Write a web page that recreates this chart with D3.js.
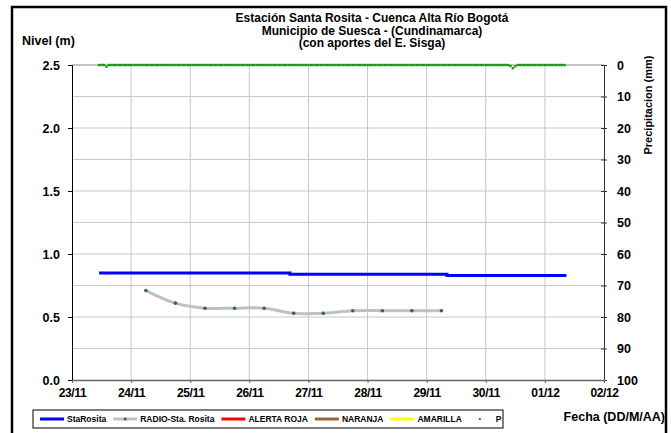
<!DOCTYPE html>
<html>
<head>
<meta charset="utf-8">
<script src="https://cdn.jsdelivr.net/npm/d3@7"></script>
<style>
  body { margin: 0; background: #fff; }
  svg text { font-family: "Liberation Sans", Arial, sans-serif; font-weight: bold; fill: #000; }
</style>
</head>
<body>
<div id="plot"></div>
<script>
// chart size
const width = 671;
const height = 433;

// texts
const titleLines = [
  "Estación Santa Rosita - Cuenca Alta Río Bogotá",
  "Municipio de Suesca - (Cundinamarca)",
  "(con aportes del  E. Sisga)"
];

// axis ticks
const dayTicks = ["2015-11-23", "2015-11-24", "2015-11-25", "2015-11-26", "2015-11-27",
                  "2015-11-28", "2015-11-29", "2015-11-30", "2015-12-01", "2015-12-02"];
const levelTicks = [0, 0.5, 1.0, 1.5, 2.0, 2.5];
const levelGrid = [0.25, 0.5, 0.75, 1.0, 1.25, 1.5, 1.75, 2.0, 2.25];
const precipTicks = [0, 10, 20, 30, 40, 50, 60, 70, 80, 90, 100];

// StaRosita (nivel, m)
const staTimes = ["2015-11-23 11:00", "2015-11-26 16:30", "2015-11-29 08:15", "2015-12-01 08:45"];
const staLevels = [0.85, 0.84, 0.83, 0.83];

// RADIO-Sta. Rosita (nivel, m)
const radioTimes = ["2015-11-24 06:00", "2015-11-24 18:00", "2015-11-25 06:00", "2015-11-25 18:00",
                    "2015-11-26 06:00", "2015-11-26 18:00", "2015-11-27 06:00", "2015-11-27 18:00",
                    "2015-11-28 06:00", "2015-11-28 18:00", "2015-11-29 06:00"];
const radioLevels = [0.71, 0.61, 0.57, 0.57, 0.57, 0.53, 0.53, 0.55, 0.55, 0.55, 0.55];

// P (precipitacion, mm) hourly from precipStart
const precipStart = "2015-11-23 11:00";
const precipValues = [
  0, 0, 0, 0.5, 0, 0, 0, 0, 0, 0, 0, 0, 0, 0, 0, 0, 0, 0, 0, 0, 0, 0, 0, 0,
  0, 0, 0, 0, 0, 0, 0, 0, 0, 0, 0, 0, 0, 0, 0, 0, 0, 0, 0, 0, 0, 0, 0, 0,
  0, 0, 0, 0, 0, 0, 0, 0, 0, 0, 0, 0, 0, 0, 0, 0, 0, 0, 0, 0, 0, 0, 0, 0,
  0, 0, 0, 0, 0, 0, 0, 0, 0, 0, 0, 0, 0, 0, 0, 0, 0, 0, 0, 0, 0, 0, 0, 0,
  0, 0, 0, 0, 0, 0, 0, 0, 0, 0, 0, 0, 0, 0, 0, 0, 0, 0, 0, 0, 0, 0, 0, 0,
  0, 0, 0, 0, 0, 0, 0, 0, 0, 0, 0, 0, 0, 0, 0, 0, 0, 0, 0, 0, 0, 0, 0, 0,
  0, 0, 0, 0, 0, 0, 0, 0, 0, 0, 0, 0, 0, 0, 0, 0, 0, 0, 0, 0, 0, 0, 0, 0.3,
  1.0, 0.4, 0, 0, 0, 0, 0, 0, 0, 0, 0, 0, 0, 0, 0, 0, 0, 0, 0, 0, 0, 0
];

// legend entries
const legendLabels = ["StaRosita", "RADIO-Sta. Rosita", "ALERTA ROJA", "NARANJA", "AMARILLA", "P"];
const legendColors = ["#0000ff", "#c0c0c0", "#ff0000", "#996633", "#ffff00", "#119911"];

const parseDay = d3.timeParse("%Y-%m-%d");
const parseTime = d3.timeParse("%Y-%m-%d %H:%M");

const margin = { top: 65, right: 67, bottom: 53, left: 72 };
const plotW = width - margin.left - margin.right;
const plotH = height - margin.top - margin.bottom;

const x = d3.scaleTime()
  .domain([parseDay(dayTicks[0]), parseDay(dayTicks[dayTicks.length - 1])])
  .range([margin.left, margin.left + plotW]);
const yLevel = d3.scaleLinear().domain([0, 2.5]).range([margin.top + plotH, margin.top]);
const yPrecip = d3.scaleLinear().domain([0, 100]).range([margin.top, margin.top + plotH]);

const svg = d3.select("div#plot")
  .append("svg")
  .attr("width", width)
  .attr("height", height);

// outer frame
svg.append("rect")
  .attr("x", 12).attr("y", 7)
  .attr("width", 654).attr("height", 440)
  .attr("fill", "none").attr("stroke", "#000").attr("stroke-width", 2.5);

// grid
const grid = svg.append("g");
grid.selectAll("line.h")
  .data(levelGrid)
  .enter().append("line")
  .attr("x1", margin.left).attr("x2", margin.left + plotW)
  .attr("y1", d => yLevel(d)).attr("y2", d => yLevel(d))
  .attr("stroke", "#c8c8c8").attr("stroke-width", 1);
grid.selectAll("line.v")
  .data(dayTicks.slice(1, -1).map(parseDay))
  .enter().append("line")
  .attr("x1", d => x(d)).attr("x2", d => x(d))
  .attr("y1", margin.top).attr("y2", margin.top + plotH)
  .attr("stroke", "#c8c8c8").attr("stroke-width", 1);

// top border line
svg.append("line")
  .attr("x1", margin.left).attr("x2", margin.left + plotW)
  .attr("y1", yLevel(2.5)).attr("y2", yLevel(2.5))
  .attr("stroke", "#888").attr("stroke-width", 1);

// left axis
const leftAxis = svg.append("g")
  .attr("transform", `translate(${margin.left},0)`)
  .call(d3.axisLeft(yLevel).tickValues(levelTicks).tickFormat(d3.format(".1f")).tickSize(4).tickPadding(8));
leftAxis.select(".domain").attr("stroke", "#000");
leftAxis.selectAll(".tick line").attr("stroke", "#000");
leftAxis.selectAll("text").style("font-size", "12.5px");

// right axis
const rightAxis = svg.append("g")
  .attr("transform", `translate(${margin.left + plotW},0)`)
  .call(d3.axisRight(yPrecip).tickValues(precipTicks).tickSize(3).tickSizeOuter(0).tickPadding(10));
rightAxis.select(".domain").attr("stroke", "#333");
rightAxis.selectAll(".tick line").attr("stroke", "#333").attr("x1", -3);
rightAxis.selectAll("text").style("font-size", "12.5px");

// bottom axis
const bottomAxis = svg.append("g")
  .attr("transform", `translate(0,${margin.top + plotH})`)
  .call(d3.axisBottom(x).tickValues(dayTicks.map(parseDay)).tickFormat(d3.timeFormat("%d/%m")).tickSize(3).tickSizeOuter(0).tickPadding(5));
bottomAxis.select(".domain").attr("stroke", "#666").attr("stroke-width", 1.5);
bottomAxis.selectAll(".tick line").attr("stroke", "#666");
bottomAxis.selectAll("text").style("font-size", "12px").attr("letter-spacing", "-0.4px");

// StaRosita line
const staData = staTimes.map((t, i) => [parseTime(t), staLevels[i]]);
svg.append("path")
  .datum(staData)
  .attr("fill", "none").attr("stroke", legendColors[0]).attr("stroke-width", 3)
  .attr("d", d3.line().x(d => x(d[0])).y(d => yLevel(d[1])).curve(d3.curveStepAfter));

// RADIO line with markers
const radioData = radioTimes.map((t, i) => [parseTime(t), radioLevels[i]]);
svg.append("path")
  .datum(radioData)
  .attr("fill", "none").attr("stroke", legendColors[1]).attr("stroke-width", 3)
  .attr("d", d3.line().x(d => x(d[0])).y(d => yLevel(d[1])).curve(d3.curveCatmullRom.alpha(0.5)));
svg.append("g")
  .selectAll("circle")
  .data(radioData)
  .enter().append("circle")
  .attr("cx", d => x(d[0])).attr("cy", d => yLevel(d[1]))
  .attr("r", 1.8).attr("fill", "#2a6b58");

// precipitation markers
const pStart = parseTime(precipStart);
const precipData = precipValues.map((v, i) => [d3.timeHour.offset(pStart, i), v]);
svg.append("g")
  .selectAll("rect")
  .data(precipData)
  .enter().append("rect")
  .attr("x", d => x(d[0]) - 1.2).attr("y", d => yPrecip(d[1]) - 1.2)
  .attr("width", 2.4).attr("height", 2.4)
  .attr("fill", legendColors[5]);

// titles
svg.append("g")
  .selectAll("text")
  .data(titleLines)
  .enter().append("text")
  .attr("x", 372).attr("y", (d, i) => 22 + i * 12.5)
  .attr("text-anchor", "middle")
  .style("font-size", "12px")
  .text(d => d);

svg.append("text")
  .attr("x", 22).attr("y", 45)
  .style("font-size", "12.5px")
  .text("Nivel (m)");

svg.append("text")
  .attr("transform", "translate(652,105) rotate(-90)")
  .attr("text-anchor", "middle")
  .style("font-size", "11px")
  .text("Precipitacion (mm)");

svg.append("text")
  .attr("x", 665).attr("y", 421)
  .attr("text-anchor", "end")
  .style("font-size", "12.5px")
  .text("Fecha (DD/M/AA)");

// legend
svg.append("rect")
  .attr("x", 33).attr("y", 410)
  .attr("width", 470).attr("height", 18)
  .attr("fill", "#fff").attr("stroke", "#000").attr("stroke-width", 1);

const legend = svg.append("g");
let lx = 40;
legendLabels.forEach((label, i) => {
  const ly = 419;
  if (i === 5) {
    legend.append("rect").attr("x", lx + 10).attr("y", ly - 1).attr("width", 2).attr("height", 2)
      .attr("fill", legendColors[i]);
  } else {
    legend.append("line")
      .attr("x1", lx).attr("x2", lx + 24).attr("y1", ly).attr("y2", ly)
      .attr("stroke", legendColors[i]).attr("stroke-width", 3);
    if (i === 1) {
      legend.append("circle").attr("cx", lx + 12).attr("cy", ly).attr("r", 1.5).attr("fill", "#2a6b58");
    }
  }
  const t = legend.append("text")
    .attr("x", lx + 27).attr("y", ly + 3)
    .style("font-size", "8.5px")
    .text(label);
  lx += 27 + t.node().getComputedTextLength() + 7;
});
</script>
</body>
</html>
